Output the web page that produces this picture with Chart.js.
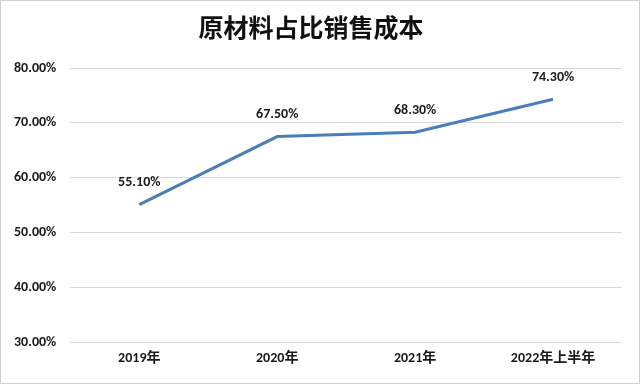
<!DOCTYPE html>
<html>
<head>
<meta charset="utf-8">
<script src="https://cdn.jsdelivr.net/npm/chart.js@4/dist/chart.umd.min.js"></script>
<style>
  html, body { margin: 0; padding: 0; background: #fff; }
  canvas { display: block; }
</style>
</head>
<body>
<canvas id="chartRatio" width="640" height="384"></canvas>
<script>
// datos
const categorias = ['2019年', '2020年', '2021年', '2022年上半年'];
const valores = [55.1, 67.5, 68.3, 74.3];
const yMin = 30, yMax = 80, yStep = 10;
const titulo = '原材料占比销售成本';

const fontTexto = 'Calibri, Carlito, "Liberation Sans", "Noto Sans CJK SC", sans-serif';

// etiquetas sobre los puntos + borde exterior
const etiquetasPlugin = {
    id: 'etiquetas',
    afterDatasetsDraw(chart) {
        const ctx = chart.ctx;
        const meta = chart.getDatasetMeta(0);
        ctx.save();
        ctx.font = 'bold 14px ' + fontTexto;
        ctx.fillStyle = '#1a1a1a';
        ctx.textAlign = 'center';
        ctx.textBaseline = 'middle';
        meta.data.forEach((pt, i) => {
            ctx.fillText(valores[i].toFixed(2) + '%', pt.x, pt.y - 22);
        });
        ctx.restore();
    },
    afterDraw(chart) {
        const ctx = chart.ctx;
        ctx.save();
        ctx.strokeStyle = '#d0d0d0';
        ctx.lineWidth = 1;
        ctx.strokeRect(0.5, 0.5, chart.width - 1, chart.height - 1);
        ctx.restore();
    }
};

new Chart(document.getElementById('chartRatio'), {
    type: 'line',
    data: {
        labels: categorias,
        datasets: [{
            data: valores,
            borderColor: '#4a7ebb',
            borderWidth: 3,
            pointRadius: 0,
            tension: 0,
            fill: false
        }]
    },
    options: {
        responsive: false,
        animation: false,
        layout: { padding: { left: 0, right: 18, top: 0, bottom: 9 } },
        plugins: {
            legend: { display: false },
            tooltip: { enabled: false },
            title: {
                display: true,
                text: titulo,
                color: '#111',
                font: { family: '"Noto Sans CJK SC", sans-serif', size: 25, weight: 'bold' },
                padding: { top: 12, bottom: 26 }
            }
        },
        scales: {
            x: {
                offset: true,
                grid: { display: false, drawTicks: false },
                border: { display: false },
                ticks: {
                    color: '#1a1a1a',
                    padding: 8,
                    maxRotation: 0,
                    font: { family: fontTexto, size: 14, weight: 'bold' }
                }
            },
            y: {
                min: yMin,
                max: yMax,
                grid: { color: '#d9d9d9', lineWidth: 1, drawTicks: false },
                border: { display: false },
                ticks: {
                    stepSize: yStep,
                    color: '#1a1a1a',
                    padding: 14,
                    font: { family: fontTexto, size: 14, weight: 'bold' },
                    callback: (v) => v.toFixed(2) + '%'
                }
            }
        }
    },
    plugins: [etiquetasPlugin]
});
</script>
</body>
</html>
